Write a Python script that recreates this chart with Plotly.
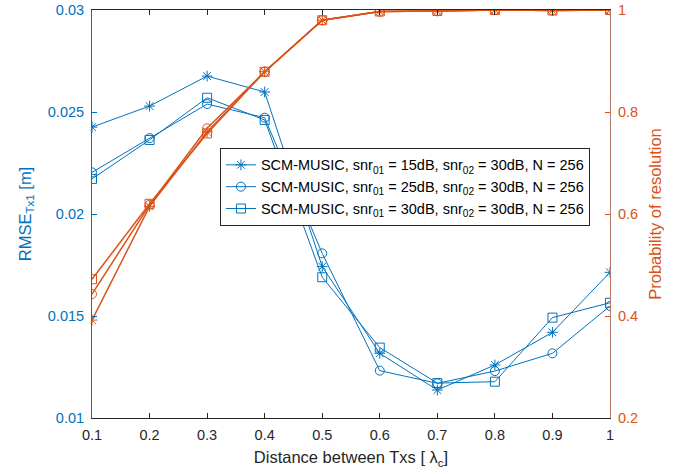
import plotly.graph_objects as go

dist = [0.1, 0.2, 0.3, 0.4, 0.5, 0.6, 0.7, 0.8, 0.9, 1.0]

rmse_15 = [0.02426, 0.02529, 0.02676, 0.02598, 0.01742, 0.01317, 0.01137, 0.01260, 0.01420, 0.01714]
rmse_25 = [0.02204, 0.02372, 0.02539, 0.02472, 0.01807, 0.01232, 0.01170, 0.01230, 0.01317, 0.01549]
rmse_30 = [0.02172, 0.02363, 0.02570, 0.02461, 0.01690, 0.01345, 0.01171, 0.01178, 0.01492, 0.01565]

prob_15 = [0.392, 0.615, 0.761, 0.879, 0.980, 0.997, 0.998, 1.000, 0.999, 1.000]
prob_25 = [0.443, 0.618, 0.768, 0.879, 0.980, 0.997, 0.998, 1.000, 0.999, 1.000]
prob_30 = [0.472, 0.620, 0.758, 0.879, 0.980, 0.997, 0.998, 1.000, 0.999, 1.000]

labels = [
    "SCM-MUSIC, snr<sub>01</sub> = 15dB, snr<sub>02</sub> = 30dB, N = 256",
    "SCM-MUSIC, snr<sub>01</sub> = 25dB, snr<sub>02</sub> = 30dB, N = 256",
    "SCM-MUSIC, snr<sub>01</sub> = 30dB, snr<sub>02</sub> = 30dB, N = 256",
]
symbols = ["asterisk-open", "circle-open", "square-open"]

BLUE = "#0072BD"
ORANGE = "#D95319"
DARK = "#262626"

fig = go.Figure()

for vals, lab, sym in zip([rmse_15, rmse_25, rmse_30], labels, symbols):
    fig.add_trace(go.Scatter(
        x=dist, y=vals, name=lab, mode="lines+markers",
        line=dict(color=BLUE, width=1),
        marker=dict(symbol=sym, size=9, color=BLUE, line=dict(color=BLUE, width=1)),
        yaxis="y",
    ))

for vals, sym in zip([prob_15, prob_25, prob_30], symbols):
    fig.add_trace(go.Scatter(
        x=dist, y=vals, mode="lines+markers", showlegend=False,
        line=dict(color=ORANGE, width=1.5),
        marker=dict(symbol=sym, size=9, color=ORANGE, line=dict(color=ORANGE, width=1)),
        yaxis="y2",
    ))

font = "Liberation Sans, Arial, sans-serif"

fig.update_layout(
    width=678, height=474,
    margin=dict(l=92, r=68, t=10, b=56),
    paper_bgcolor="white", plot_bgcolor="white",
    font=dict(family=font, size=14, color=DARK),
    xaxis=dict(
        range=[0.1, 1.0], dtick=0.1, tick0=0.1,
        showgrid=False, zeroline=False, automargin=False,
        showline=True, linecolor=DARK, linewidth=1, mirror="ticks",
        ticks="inside", ticklen=5, tickcolor=DARK,
        tickfont=dict(size=14.5, color=DARK),
        ticklabelstandoff=4,
        title=dict(text="Distance between Txs [ λ<sub>c</sub>]", font=dict(size=16.5, color=DARK), standoff=9),
    ),
    yaxis=dict(
        range=[0.01, 0.03], dtick=0.005,
        showgrid=False, zeroline=False, automargin=False,
        showline=True, linecolor=BLUE, linewidth=1,
        ticks="inside", ticklen=5, tickcolor=BLUE,
        tickfont=dict(size=14.5, color=BLUE),
        ticklabelstandoff=4,
        title=dict(text="RMSE<sub>Tx1</sub> [m]", font=dict(size=16.5, color=BLUE), standoff=12),
    ),
    yaxis2=dict(
        range=[0.2, 1.0], dtick=0.2,
        overlaying="y", side="right",
        showgrid=False, zeroline=False, automargin=False,
        showline=True, linecolor="#B87A66", linewidth=1,
        ticks="inside", ticklen=5, tickcolor=ORANGE,
        tickfont=dict(size=14.5, color=ORANGE),
        ticklabelstandoff=4,
        title=dict(text="Probability of resolution", font=dict(size=16.5, color=ORANGE), standoff=12),
    ),
    legend=dict(
        x=0.247, y=0.662, xanchor="left", yanchor="top",
        bgcolor="white", bordercolor=DARK, borderwidth=1,
        font=dict(size=14.5, color="black"),
        tracegroupgap=0,
    ),
)

fig.write_html("out.html")
